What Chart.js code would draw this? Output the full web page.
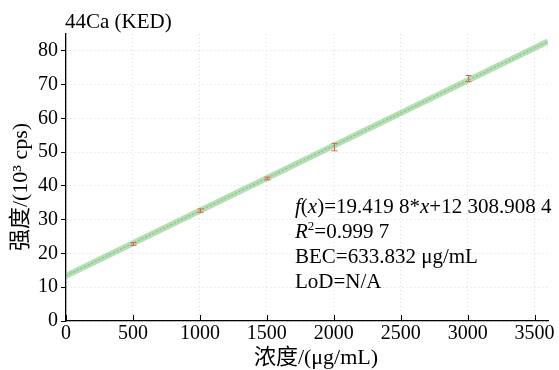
<!DOCTYPE html>
<html>
<head>
    <title>44Ca (KED)</title>
    <script src="https://cdn.jsdelivr.net/npm/chart.js"></script>
    <style>
        body { margin: 0; background: #fff; }
        .chart-container { width: 559px; height: 370px; }
    </style>
</head>
<body>
    <div class="chart-container">
        <canvas id="calChart"></canvas>
    </div>

    <script>
        // calibration standards (x: µg/mL, y: 10^3 cps)
        const concentrations = [500, 1000, 1500, 2000, 3000];
        const intensities = [22.8, 32.7, 42.2, 51.5, 71.8];
        const errors = [0.4, 0.5, 0.4, 1.1, 0.9];

        // fitted line end points
        const fitX = [0, 3600];
        const fitY = [13.4, 82.8];

        // axis ticks
        const xTickVals = [0, 500, 1000, 1500, 2000, 2500, 3000, 3500];
        const yTickVals = [0, 10, 20, 30, 40, 50, 60, 70, 80];

        const chartTitle = '44Ca (KED)';
        const xTitle = '浓度/(μg/mL)';
        const yTitle = '强度/(10³ cps)';

        // annotation lines, each split into [text, style] pieces
        const noteLines = [
            [['f', 'i'], ['(', 'n'], ['x', 'i'], [')=19.419 8*', 'n'], ['x', 'i'], ['+12 308.908 4', 'n']],
            [['R', 'i'], ['2', 's'], ['=0.999 7', 'n']],
            [['BEC=633.832 μg/mL', 'n']],
            [['LoD=N/A', 'n']]
        ];

        const serif = '"Liberation Serif", "Times New Roman", "Noto Sans CJK SC", serif';
        const gridCol = '#dcdcdc';

        const extras = {
            id: 'extras',
            afterDatasetsDraw(chart) {
                const c = chart.ctx;
                const xs = chart.scales.x, ys = chart.scales.y;
                const area = chart.chartArea;

                // error bars
                c.save();
                c.strokeStyle = '#e0604a';
                c.lineWidth = 1;
                concentrations.forEach((cx, i) => {
                    const px = Math.round(xs.getPixelForValue(cx)) + 0.5;
                    const top = ys.getPixelForValue(intensities[i] + errors[i]);
                    const bot = ys.getPixelForValue(intensities[i] - errors[i]);
                    c.beginPath();
                    c.moveTo(px, top); c.lineTo(px, bot);
                    c.moveTo(px - 3, top); c.lineTo(px + 3, top);
                    c.moveTo(px - 3, bot); c.lineTo(px + 3, bot);
                    c.stroke();
                });
                c.restore();

                // inward ticks on x axis
                c.save();
                c.strokeStyle = '#000';
                c.lineWidth = 1;
                xs.ticks.forEach(t => {
                    const px = Math.round(xs.getPixelForValue(t.value)) + 0.5;
                    c.beginPath();
                    c.moveTo(px, area.bottom);
                    c.lineTo(px, area.bottom - 6);
                    c.stroke();
                });
                c.restore();

                c.save();
                c.fillStyle = '#000';
                c.textBaseline = 'alphabetic';

                // title
                c.font = '21px ' + serif;
                c.fillText(chartTitle, area.left - 1, 28);

                // axis titles
                c.font = '22px ' + serif;
                c.textAlign = 'center';
                c.fillText(xTitle, 316, 364);
                c.save();
                c.translate(27, 187);
                c.rotate(-Math.PI / 2);
                c.fillText(yTitle, 0, 0);
                c.restore();
                c.textAlign = 'left';

                // annotation
                let y = 213;
                noteLines.forEach(line => {
                    let x = 295;
                    line.forEach(([txt, st]) => {
                        if (st === 's') {
                            c.font = '13px ' + serif;
                            c.fillText(txt, x, y - 8);
                        } else {
                            c.font = (st === 'i' ? 'italic ' : '') + '21px ' + serif;
                            c.fillText(txt, x, y);
                        }
                        x += c.measureText(txt).width;
                    });
                    y += 25;
                });
                c.restore();
            }
        };

        const ctx = document.getElementById('calChart').getContext('2d');
        new Chart(ctx, {
            type: 'scatter',
            data: {
                datasets: [
                    {
                        label: 'band',
                        type: 'line',
                        data: fitX.map((x, i) => ({ x: x, y: fitY[i] })),
                        borderColor: 'rgba(120, 195, 120, 0.55)',
                        borderWidth: 6,
                        pointRadius: 0,
                        fill: false
                    },
                    {
                        label: 'fit',
                        type: 'line',
                        data: fitX.map((x, i) => ({ x: x, y: fitY[i] })),
                        borderColor: 'rgba(60, 140, 70, 0.7)',
                        borderWidth: 1,
                        borderDash: [2, 2],
                        pointRadius: 0,
                        fill: false
                    },
                    {
                        label: 'standards',
                        data: concentrations.map((x, i) => ({ x: x, y: intensities[i] })),
                        pointRadius: 0,
                        showLine: false
                    }
                ]
            },
            options: {
                responsive: true,
                maintainAspectRatio: false,
                animation: false,
                layout: { padding: { top: 34, right: 11, left: 0, bottom: 0 } },
                plugins: {
                    legend: { display: false },
                    tooltip: { enabled: false }
                },
                scales: {
                    x: {
                        type: 'linear',
                        min: 0,
                        max: 3600,
                        afterBuildTicks: s => { s.ticks = xTickVals.map(v => ({ value: v })); },
                        afterFit: s => { s.height = 49; },
                        ticks: {
                            autoSkip: false, color: '#000', maxRotation: 0,
                            font: { family: serif, size: 20 }, padding: 1,
                            callback: v => String(v)
                        },
                        grid: { drawTicks: false, color: gridCol },
                        border: { color: '#000', width: 1.3, dash: [1, 3] }
                    },
                    y: {
                        min: 0,
                        max: 85,
                        afterBuildTicks: s => { s.ticks = yTickVals.map(v => ({ value: v })); },
                        afterFit: s => { s.width = 66; },
                        ticks: {
                            autoSkip: false, color: '#000',
                            font: { family: serif, size: 20 }, padding: 3,
                            callback: v => String(v)
                        },
                        grid: { tickLength: 5, color: gridCol, tickColor: '#000' },
                        border: { color: '#000', width: 1.3, dash: [1, 3] }
                    }
                }
            },
            plugins: [extras]
        });
    </script>
</body>
</html>
